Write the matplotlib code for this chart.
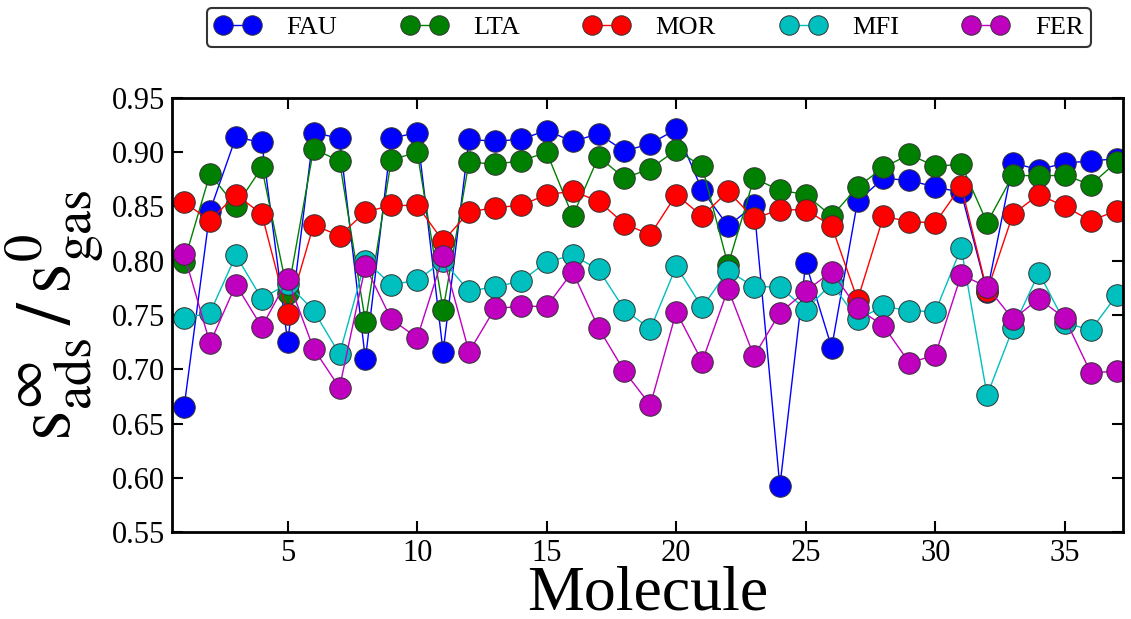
import matplotlib
matplotlib.use("Agg")
import matplotlib.pyplot as plt
import numpy as np

plt.rcParams['font.family'] = ['Liberation Serif', 'DejaVu Serif']
plt.rcParams['mathtext.fontset'] = 'stix'

molecules = np.arange(1, 38)

fau = [0.665, 0.846, 0.914, 0.909, 0.725, 0.918, 0.913, 0.709, 0.913, 0.918,
       0.716, 0.912, 0.910, 0.912, 0.920, 0.910, 0.917, 0.901, 0.908, 0.921,
       0.865, 0.832, 0.851, 0.592, 0.798, 0.720, 0.855, 0.876, 0.874, 0.868,
       0.863, 0.771, 0.890, 0.884, 0.890, 0.892, 0.894]
lta = [0.799, 0.880, 0.850, 0.886, 0.770, 0.903, 0.892, 0.744, 0.893, 0.900,
       0.755, 0.891, 0.889, 0.892, 0.900, 0.841, 0.896, 0.876, 0.885, 0.902,
       0.887, 0.796, 0.876, 0.865, 0.861, 0.841, 0.868, 0.886, 0.898, 0.887,
       0.889, 0.835, 0.879, 0.878, 0.879, 0.870, 0.891]
mor = [0.854, 0.837, 0.861, 0.843, 0.751, 0.833, 0.823, 0.845, 0.851, 0.851,
       0.818, 0.845, 0.849, 0.851, 0.861, 0.864, 0.855, 0.834, 0.824, 0.861,
       0.841, 0.864, 0.839, 0.847, 0.847, 0.832, 0.764, 0.841, 0.836, 0.835,
       0.869, 0.772, 0.843, 0.861, 0.850, 0.837, 0.846]
mfi = [0.747, 0.752, 0.805, 0.765, 0.779, 0.754, 0.714, 0.800, 0.778, 0.782,
       0.800, 0.772, 0.776, 0.781, 0.799, 0.805, 0.792, 0.755, 0.737, 0.795,
       0.757, 0.791, 0.776, 0.776, 0.755, 0.779, 0.746, 0.758, 0.754, 0.753,
       0.812, 0.676, 0.738, 0.789, 0.743, 0.736, 0.768]
fer = [0.806, 0.724, 0.778, 0.739, 0.783, 0.719, 0.683, 0.795, 0.746, 0.729,
       0.804, 0.716, 0.756, 0.758, 0.758, 0.790, 0.738, 0.698, 0.667, 0.753,
       0.707, 0.774, 0.712, 0.752, 0.772, 0.790, 0.756, 0.740, 0.706, 0.713,
       0.787, 0.776, 0.746, 0.765, 0.747, 0.697, 0.698]

series = [("FAU", fau, (0, 0, 1)),
          ("LTA", lta, (0, 0.5, 0)),
          ("MOR", mor, (1, 0, 0)),
          ("MFI", mfi, (0, 0.75, 0.75)),
          ("FER", fer, (0.75, 0, 0.75))]

xticks = [5, 10, 15, 20, 25, 30, 35]
yticks = [0.55, 0.60, 0.65, 0.70, 0.75, 0.80, 0.85, 0.90, 0.95]

fig = plt.figure(figsize=(11.31, 6.19), dpi=100)
ax = fig.add_axes([0.152, 0.1405, 0.841, 0.7012])

for name, vals, col in series:
    ax.plot(molecules, vals, '-o', color=col, lw=1.0, markersize=15.5,
            markerfacecolor=col, markeredgecolor='#333333',
            markeredgewidth=0.7, label=name)

ax.set_xlim(0.53, 37.25)
ax.set_ylim(0.55, 0.95)
ax.set_xticks(xticks)
ax.set_yticks(yticks)
ax.set_yticklabels([f"{v:.2f}" for v in yticks])
ax.tick_params(direction='in', length=8, width=1.5, labelsize=22,
               top=True, right=True, pad=5)
for sp in ax.spines.values():
    sp.set_linewidth(2)

ax.set_xlabel("Molecule", fontsize=46, labelpad=-2)
ax.set_ylabel(r"$\mathrm{s}^{\infty}_{\mathrm{ads}}\,/\,\mathrm{s}^{0}_{\mathrm{gas}}$",
              fontsize=56, labelpad=4)

leg = fig.legend(loc='center', bbox_to_anchor=(0.574, 0.956), ncol=5,
                 fontsize=19, numpoints=2, handlelength=1.7,
                 columnspacing=2.45, handletextpad=1.0, fancybox=True,
                 framealpha=1, borderpad=0.3)
leg.get_frame().set_edgecolor('#333333')
leg.get_frame().set_linewidth(1.5)
for h in leg.legend_handles:
    h.set_markersize(14)

fig.savefig("out.png", dpi=100)
